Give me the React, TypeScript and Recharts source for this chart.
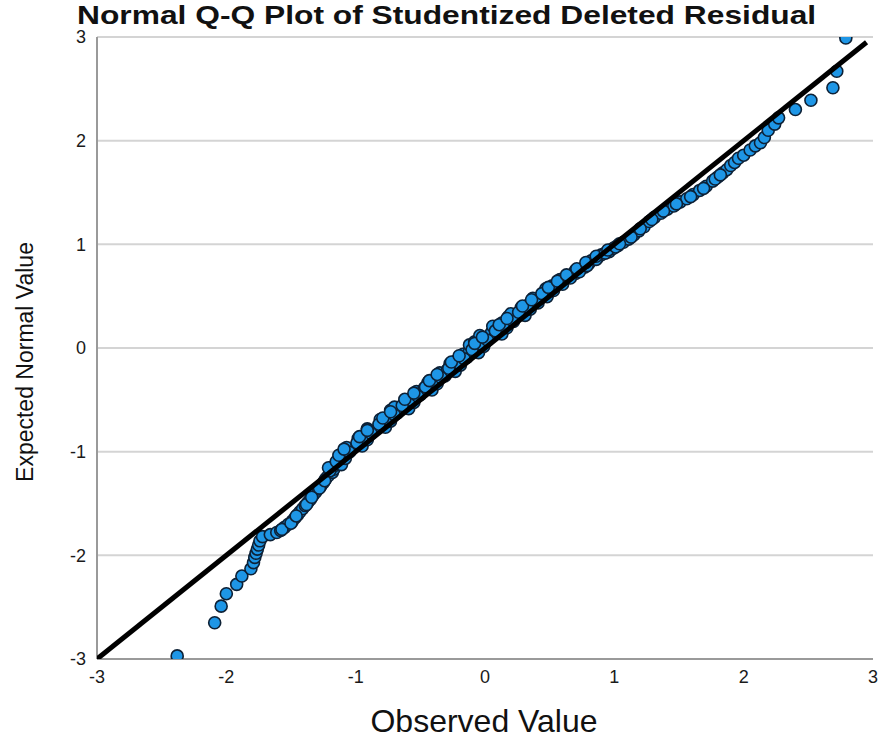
import React from "react";
import { ScatterChart, Scatter, XAxis, YAxis, CartesianGrid } from "recharts";

const OBSERVED: number[] = [
  -2.38, -2.09, -2.04, -2.0, -1.92, -1.88, -1.81, -1.79, -1.78, -1.77, -1.76, -1.75, -1.74, -1.72,
  -1.66, -1.61, -1.58, -1.55, -1.52, -1.49, -1.47, -1.45, -1.43, -1.41, -1.39, -1.37, -1.35, -1.33,
  -1.31, -1.29, -1.27, -1.25, -1.23, -1.21,
  -1.18, -1.17, -1.17, -1.14, -1.1, -1.11, -1.07, -1.04, -1.07, -0.99, -0.94, -0.98, -0.9, -0.87,
  -0.91, -0.82, -0.76, -0.81, -0.72, -0.68, -0.73, -0.7, -0.59, -0.61, -0.55, -0.5, -0.53, -0.47,
  -0.4, -0.44, -0.38, -0.31, -0.35, -0.29, -0.22, -0.27, -0.22, -0.14, -0.17, -0.12, -0.07, -0.12,
  -0.08, 0.02, -0.04, 0.05, 0.1, 0.06, 0.13, 0.21, 0.18, 0.2, 0.3, 0.28, 0.34, 0.4, 0.37, 0.44,
  0.5, 0.47, 0.52, 0.56, 0.58, 0.66, 0.7, 0.7, 0.77, 0.8, 0.82, 0.87, 0.9, 0.96, 0.99, 1.03,
  1.07, 1.11, 1.15, 1.19, 1.23, 1.27, 1.31,
  1.36, 1.41, 1.46, 1.51, 1.56, 1.61, 1.66, 1.71, 1.76, 1.8, 1.84, 1.87, 1.9, 1.93, 1.96, 2.0,
  2.05, 2.09, 2.13, 2.16, 2.19, 2.24, 2.27, 2.4, 2.52, 2.69, 2.72, 2.79,
];
const EXPECTED: number[] = [
  -2.97, -2.65, -2.49, -2.37, -2.28, -2.2, -2.13, -2.07, -2.02, -1.98, -1.94, -1.9, -1.86, -1.82,
  -1.8, -1.78, -1.76, -1.73, -1.7, -1.67, -1.64, -1.61, -1.58, -1.55, -1.52, -1.49, -1.46, -1.42,
  -1.39, -1.36, -1.33, -1.3, -1.26, -1.23,
  -1.2, -1.17, -1.14, -1.11, -1.08, -1.05, -1.02, -0.99, -0.96, -0.93, -0.9, -0.87, -0.84, -0.81,
  -0.78, -0.75, -0.72, -0.69, -0.66, -0.63, -0.6, -0.57, -0.54, -0.51, -0.48, -0.45, -0.42, -0.39,
  -0.36, -0.33, -0.3, -0.27, -0.24, -0.21, -0.18, -0.15, -0.12, -0.09, -0.06, -0.03, 0.0, 0.03,
  0.06, 0.09, 0.12, 0.15, 0.18, 0.21, 0.24, 0.27, 0.3, 0.33, 0.36, 0.39, 0.42, 0.45, 0.48, 0.51,
  0.54, 0.57, 0.6, 0.63, 0.66, 0.69, 0.72, 0.75, 0.78, 0.81, 0.84, 0.87, 0.9, 0.93, 0.96, 0.99,
  1.02, 1.05, 1.09, 1.13, 1.17, 1.22, 1.26,
  1.3, 1.34, 1.37, 1.41, 1.44, 1.48, 1.52, 1.56, 1.61, 1.65, 1.69, 1.72, 1.76, 1.79, 1.83, 1.86,
  1.91, 1.95, 1.98, 2.03, 2.1, 2.16, 2.22, 2.3, 2.39, 2.51, 2.67, 2.99,
];

// the overlapping cases that fill in the dense band
const OBSERVED_DENSE: number[] = [
  -1.57, -1.5, -1.46, -1.38, -1.34, -1.28, -1.24,
  -1.2, -1.21, -1.11, -1.15, -1.08, -1.13, -1.05, -1.09, -0.95, -0.99, -0.91, -0.97, -0.88, -0.91,
  -0.77, -0.82, -0.73, -0.79, -0.7, -0.73, -0.59, -0.64, -0.55, -0.62, -0.52, -0.55, -0.41, -0.46,
  -0.37, -0.43, -0.34, -0.37, -0.23, -0.28, -0.19, -0.26, -0.16, -0.2, -0.05, -0.1, -0.01, -0.08,
  0.02, -0.02, 0.13, 0.08, 0.17, 0.11, 0.22, 0.17, 0.31, 0.26, 0.35, 0.29, 0.41, 0.36, 0.48, 0.44,
  0.53, 0.49, 0.6, 0.56, 0.66, 0.63, 0.73, 0.71, 0.79, 0.78, 0.86, 0.86, 0.93, 0.95, 1.01, 1.04,
  1.13, 1.2, 1.29, 1.38, 1.48, 1.59, 1.69, 1.78, 1.82,
];
const EXPECTED_DENSE: number[] = [
  -1.75, -1.69, -1.62, -1.51, -1.44, -1.35, -1.28,
  -1.185, -1.155, -1.125, -1.095, -1.065, -1.035, -1.005, -0.975, -0.945, -0.915, -0.885, -0.855,
  -0.825, -0.795, -0.765, -0.735, -0.705, -0.675, -0.645, -0.615, -0.585, -0.555, -0.525, -0.495,
  -0.465, -0.435, -0.405, -0.375, -0.345, -0.315, -0.285, -0.255, -0.225, -0.195, -0.165, -0.135,
  -0.105, -0.075, -0.045, -0.015, 0.015, 0.045, 0.075, 0.105, 0.135, 0.165, 0.195, 0.225, 0.255,
  0.285, 0.315, 0.345, 0.375, 0.405, 0.435, 0.465, 0.495, 0.525, 0.555, 0.585, 0.615, 0.645,
  0.675, 0.705, 0.735, 0.765, 0.795, 0.825, 0.855, 0.885, 0.915, 0.945, 0.975, 1.005,
  1.07, 1.15, 1.24, 1.32, 1.39, 1.46, 1.54, 1.63, 1.67,
];
// y = x reference line, end points as drawn
const REF_X = [-3, 2.95];
const REF_Y = [-3, 2.95];
const TICKS = [-3, -2, -1, 0, 1, 2, 3];

const points = [
  ...OBSERVED.map((x, i) => ({ x, y: EXPECTED[i] })),
  ...OBSERVED_DENSE.map((x, i) => ({ x, y: EXPECTED_DENSE[i] })),
];
const refLine = REF_X.map((x, i) => ({ x, y: REF_Y[i] }));

const SANS = "'Liberation Sans', Arial, sans-serif";

const Dot = (props: any) => {
  const { cx, cy } = props;
  return <circle cx={cx} cy={cy} r={6} fill="#1e96e6" stroke="#0d2136" strokeWidth={1.6} />;
};

const NoDot = () => <g />;

export default function App() {
  return (
    <div style={{ position: "absolute", left: 0, top: 0, width: 883, height: 745, background: "#fff" }}>
      <div
        style={{
          position: "absolute",
          left: 77,
          top: 0,
          fontFamily: SANS,
          fontWeight: "bold",
          fontSize: 25,
          lineHeight: "30px",
          color: "#111",
          whiteSpace: "nowrap",
          transform: "scaleX(1.27)",
          transformOrigin: "left center",
        }}
      >
        Normal Q-Q Plot of Studentized Deleted Residual
      </div>
      <ScatterChart width={883} height={745} margin={{ top: 37, right: 10, bottom: 46, left: 37 }}>
        <CartesianGrid vertical={false} stroke="#d4d4d4" strokeWidth={2} />
        <XAxis
          type="number"
          dataKey="x"
          domain={[-3, 3]}
          ticks={TICKS}
          allowDataOverflow
          tickLine={false}
          tickSize={6}
          axisLine={{ stroke: "#9a9a9a", strokeWidth: 2 }}
          tick={{ fill: "#1a1a1a", fontSize: 18, fontFamily: SANS }}
          tickMargin={5}
          height={40}
        />
        <YAxis
          type="number"
          dataKey="y"
          domain={[-3, 3]}
          ticks={TICKS}
          allowDataOverflow
          tickLine={false}
          tickSize={6}
          axisLine={{ stroke: "#9a9a9a", strokeWidth: 2 }}
          tick={{ fill: "#1a1a1a", fontSize: 18, fontFamily: SANS }}
          tickMargin={5}
          width={60}
        />
        <Scatter data={points} shape={<Dot />} isAnimationActive={false} />
        <Scatter
          data={refLine}
          line={{ stroke: "#000", strokeWidth: 5 }}
          shape={<NoDot />}
          isAnimationActive={false}
        />
      </ScatterChart>
      <div
        style={{
          position: "absolute",
          left: 0,
          width: 968,
          top: 703,
          textAlign: "center",
          fontFamily: SANS,
          fontSize: 32,
          lineHeight: "36px",
          color: "#111",
          whiteSpace: "nowrap",
        }}
      >
        Observed Value
      </div>
      <div
        style={{
          position: "absolute",
          left: 25,
          top: 362,
          transform: "translate(-50%, -50%) rotate(-90deg)",
          fontFamily: SANS,
          fontSize: 23,
          color: "#111",
          whiteSpace: "nowrap",
        }}
      >
        Expected Normal Value
      </div>
    </div>
  );
}
